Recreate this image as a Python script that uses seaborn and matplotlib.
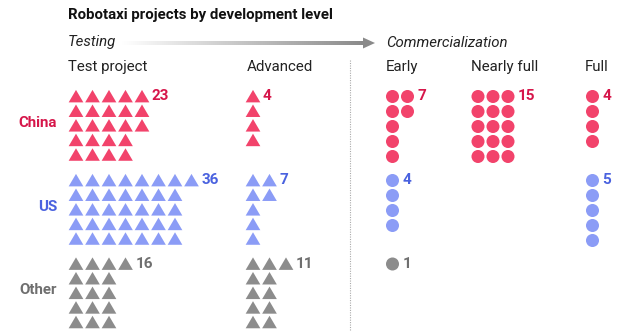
import numpy as np
import pandas as pd
import matplotlib
matplotlib.use("Agg")
import matplotlib.pyplot as plt
import seaborn as sns
from matplotlib.patches import Polygon

# ---- data ----
regions = ["China", "US", "Other"]
stages = ["Test project", "Advanced", "Early", "Nearly full", "Full"]
phases = ["Testing", "Testing", "Commercialization", "Commercialization", "Commercialization"]
china = [23, 4, 7, 15, 4]
us = [36, 7, 4, 0, 5]
other = [16, 11, 1, 0, 0]
counts = {"China": china, "US": us, "Other": other}

# ---- style ----
sns.set_theme(style="white")
plt.rcParams["font.family"] = ["Roboto", "DejaVu Sans"]

marker_col = {"China": "#f2436b", "US": "#8b9cf6", "Other": "#8c8c8c"}
text_col = {"China": "#d6164a", "US": "#4a62df", "Other": "#6f6f6f"}

# layout (pixel space)
stage_x = [76, 253, 392.5, 478, 592.5]
region_y = {"China": 96.5, "US": 180.5, "Other": 264}
per_col = 5

rows = []
labels = []
for r in regions:
    for si, st in enumerate(stages):
        n = counts[r][si]
        tri = phases[si] == "Testing"
        dx = 16.5 if tri else 15.0
        dy = 14.6 if tri else 15.0
        for i in range(n):
            c, k = divmod(i, per_col)
            rows.append({"region": r, "shape": "tri" if tri else "dot",
                         "x": stage_x[si] + c * dx, "y": region_y[r] + k * dy})
        if n > 0:
            lastc = (n - 1) // per_col
            labels.append((stage_x[si] + lastc * dx + 10, region_y[r], str(n), r))
df = pd.DataFrame(rows)

fig = plt.figure(figsize=(6.36, 3.35), dpi=100)
ax = fig.add_axes([0, 0, 1, 1])

tri_marker = [(-1, -0.8), (1, -0.8), (0, 0.9)]
sns.scatterplot(data=df, x="x", y="y", hue="region", style="shape", size="shape",
                markers={"tri": tri_marker, "dot": "o"},
                sizes={"tri": 112, "dot": 88},
                palette=marker_col, linewidth=0, legend=False, ax=ax)

for x, y, t, r in labels:
    ax.text(x, y, t, color=text_col[r], fontsize=11, fontweight="bold",
            ha="left", va="center")

for r in regions:
    ax.text(57, region_y[r] + 2 * 14.6 - 3, r, color=text_col[r], fontsize=10.8,
            fontweight="bold", ha="right", va="center")

# headers
ax.text(68, 15, "Robotaxi projects by development level", fontsize=10.8,
        fontweight="bold", color="#111111", ha="left", va="center")
ax.text(68, 42, "Testing", fontsize=10.8, style="italic", color="#222222",
        ha="left", va="center")
ax.text(386, 43, "Commercialization", fontsize=10.8, style="italic",
        color="#222222", ha="left", va="center")
header_x = [68, 247, 386, 471, 585]
for hx, st in zip(header_x, stages):
    ax.text(hx, 67, st, fontsize=10.8, color="#222222", ha="left", va="center")

# gradient arrow
grad = np.linspace(0, 1, 256).reshape(1, -1)
cmap = matplotlib.colors.LinearSegmentedColormap.from_list("g", ["#ffffff", "#8a8a8a"])
ax.imshow(grad, extent=[122, 364, 44.7, 41.3], cmap=cmap, aspect="auto",
          interpolation="bilinear", zorder=1)
ax.add_patch(Polygon([[363, 37.5], [363, 48.5], [375, 43]], closed=True,
                     facecolor="#8a8a8a", edgecolor="none"))

# divider
ax.plot([350, 350], [60, 330], color="#aaaaaa", lw=0.8, ls=(0, (1, 1.2)))

ax.set_xlim(0, 636)
ax.set_ylim(335, 0)
ax.axis("off")
fig.savefig("out.png", dpi=100, facecolor="white")
